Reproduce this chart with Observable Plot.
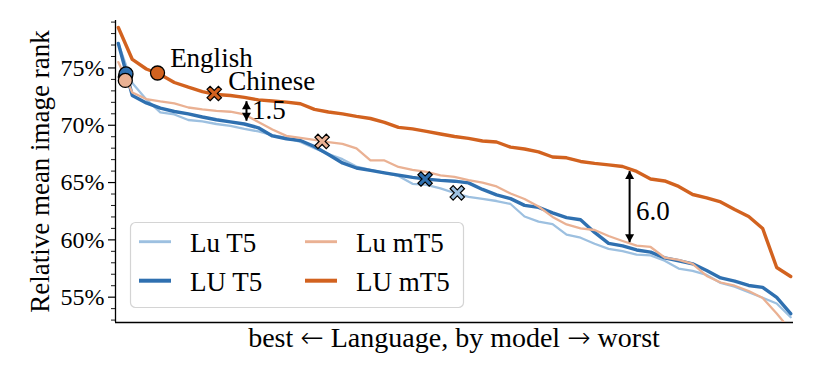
<!DOCTYPE html>
<html>
<head>
<meta charset="utf-8">
<script src="https://cdn.jsdelivr.net/npm/d3@7"></script>
<script src="https://cdn.jsdelivr.net/npm/@observablehq/plot@0.6"></script>
<style>
  body { margin: 0; background: #fff; }
  #wrap { position: relative; width: 831px; height: 377px; font-family: "Liberation Serif", "Times New Roman", serif; }
  #overlay { position: absolute; left: 0; top: 0; pointer-events: none; }
</style>
</head>
<body>
<div id="wrap"></div>
<script>
// ---- data ----
const models = ["Lu T5", "LU T5", "Lu mT5", "LU mT5"];
const colors = ["#9dc0e0", "#2f70b0", "#eab193", "#d2621f"];
const widths = [2.3, 3.4, 2.3, 3.4];

const ranks = [0,2,4,6,8,10,12,14,16,18,20,22,24,26,28,30,32,34,36,38,40,42,44,46,48,50,52,54,56,58,60,62,64,66,68,70,72,74,76,78,80,82,84,86,88,90,92,94,96];

const luT5 = [77.14,73.69,72.25,71.12,70.94,70.46,70.33,70.11,69.94,69.68,69.46,69.14,68.89,68.54,68.00,67.49,67.04,66.40,66.10,65.84,65.58,64.89,64.79,64.49,64.09,63.76,63.57,63.39,63.13,62.04,61.59,61.38,60.45,60.19,59.66,59.21,59.01,58.71,58.64,58.18,57.50,57.29,56.94,56.24,55.92,55.43,54.95,54.45,53.25];
const LUT5 = [77.14,72.60,71.95,71.49,71.20,70.99,70.72,70.48,70.29,70.11,69.78,69.07,68.82,68.67,68.15,67.45,66.71,66.27,66.06,65.85,65.65,65.45,65.30,65.19,65.12,64.97,64.40,63.92,63.60,63.01,62.83,62.36,61.94,61.76,60.65,59.69,59.47,59.12,58.93,58.43,58.18,57.91,57.33,56.68,56.40,56.02,55.85,54.98,53.56];
const lumT5 = [75.51,72.86,72.29,72.08,71.90,71.55,71.38,71.25,71.18,70.94,70.29,69.63,69.07,68.89,68.73,68.53,68.37,67.98,66.93,66.93,66.36,66.10,65.93,65.62,65.49,65.21,64.99,64.66,64.05,63.57,62.91,62.00,61.35,61.01,60.86,60.34,59.90,59.49,59.38,58.46,58.25,57.90,56.85,56.28,56.00,55.54,54.93,53.58,52.10];
const LUmT5 = [78.53,75.74,74.91,74.43,73.73,73.32,72.94,72.68,72.60,72.43,72.21,72.12,72.02,71.88,71.38,71.16,70.99,70.77,70.59,70.25,69.81,69.68,69.46,69.24,69.02,68.85,68.63,68.54,68.09,67.93,67.67,67.23,67.16,66.84,66.67,66.54,66.40,65.97,65.31,65.14,64.66,63.96,63.67,63.31,62.65,62.04,60.99,57.59,56.80];

// highlighted languages
const markerModel = ["Lu T5", "LU T5", "Lu mT5", "LU mT5", "Lu T5", "LU T5", "Lu mT5", "LU mT5"];
const markerLang  = ["English", "English", "English", "English", "Chinese", "Chinese", "Chinese", "Chinese"];
const markerRank  = [1.0, 1.1, 1.0, 5.6, 48.4, 43.8, 29.1, 13.7];
const markerValue = [74.2, 74.48, 73.91, 74.56, 64.1, 65.31, 68.59, 72.77];

// annotations
const annText  = ["English", "Chinese", "1.5", "6.0"];
const annRank  = [7.4, 15.7, 19.1, 73.9];
const annValue = [75.04, 73.04, 70.57, 61.75];
const arrowRank   = [18.3, 73.0];
const arrowTop    = [72.1, 66.0];
const arrowBottom = [70.4, 59.8];

const majorTicks = [55, 60, 65, 70, 75];
const minorTicks = [53, 54, 56, 57, 58, 59, 61, 62, 63, 64, 66, 67, 68, 69, 71, 72, 73, 74, 76, 77, 78, 79];
const xDomain = [-0.4, 96.4];
const yDomain = [52.79, 79.14];
const yLabel = "Relative mean image rank";
const xLabelParts = ["best ", "\u2190", " Language, by model ", "\u2192", " worst"];

// ---- build ----
const seriesValues = [luT5, LUT5, lumT5, LUmT5];
const rows = models.map((m, k) => ranks.map((r, i) => ({model: m, rank: r, value: seriesValues[k][i]})));
const markers = markerModel.map((m, i) => ({model: m, lang: markerLang[i], rank: markerRank[i], value: markerValue[i], color: colors[models.indexOf(m)]}));
const anns = annText.map((t, i) => ({text: t, rank: annRank[i], value: annValue[i]}));
const arrows = arrowRank.map((r, i) => ({rank: r, top: arrowTop[i], bottom: arrowBottom[i]}));

const xSymbol = {
  draw(ctx) {
    const r = 7.2, w = r * 0.3, L = r * Math.SQRT2 - w;
    const pts = [[w,L],[w,w],[L,w],[L,-w],[w,-w],[w,-L],[-w,-L],[-w,-w],[-L,-w],[-L,w],[-w,w],[-w,L]]
      .map(([x, y]) => [(x - y) / Math.SQRT2, (x + y) / Math.SQRT2]);
    ctx.moveTo(pts[0][0], pts[0][1]);
    for (let i = 1; i < pts.length; ++i) ctx.lineTo(pts[i][0], pts[i][1]);
    ctx.closePath();
  }
};
const headUp = {draw(ctx) { ctx.moveTo(0, 0); ctx.lineTo(-4.5, 8); ctx.lineTo(4.5, 8); ctx.closePath(); }};
const headDown = {draw(ctx) { ctx.moveTo(0, 0); ctx.lineTo(-4.5, -8); ctx.lineTo(4.5, -8); ctx.closePath(); }};

const lineMarks = models.map((m, k) => Plot.line(rows[k], {x: "rank", y: "value", stroke: colors[k], strokeWidth: widths[k], clip: true, strokeLinejoin: "round"}));

const chart = Plot.plot({
  width: 831,
  height: 377,
  marginLeft: 115,
  marginRight: 38,
  marginTop: 20,
  marginBottom: 55,
  x: {domain: xDomain, axis: null},
  y: {domain: yDomain},
  style: {fontFamily: "'Liberation Serif', 'Times New Roman', serif", fontSize: "24px", color: "#000", background: "#fff", overflow: "visible"},
  marks: [
    Plot.axisY(minorTicks, {tickSize: 4, tickFormat: () => "", label: null, strokeWidth: 0.9}),
    Plot.axisY(majorTicks, {tickSize: 7, tickPadding: 4, tickFormat: d => d + "%", label: null, strokeWidth: 1.2, fontSize: 24}),
    Plot.ruleX([xDomain[0]], {stroke: "#000", strokeWidth: 1.3}),
    Plot.ruleY([yDomain[0]], {stroke: "#000", strokeWidth: 1.3}),
    ...lineMarks,
    Plot.dot(markers.filter(d => d.lang === "English"), {x: "rank", y: "value", r: 7, fill: "color", stroke: "#000", strokeWidth: 1.3}),
    Plot.dot(markers.filter(d => d.lang === "Chinese"), {x: "rank", y: "value", r: 7, symbol: xSymbol, fill: "color", stroke: "#000", strokeWidth: 1.2}),
    Plot.link(arrows, {x1: "rank", x2: "rank", y1: "top", y2: "bottom", stroke: "#000", strokeWidth: 2}),
    Plot.dot(arrows, {x: "rank", y: "top", symbol: headUp, fill: "#000", stroke: "none"}),
    Plot.dot(arrows, {x: "rank", y: "bottom", symbol: headDown, fill: "#000", stroke: "none"}),
    Plot.text(anns, {x: "rank", y: "value", text: "text", textAnchor: "start", lineAnchor: "bottom", fontSize: 27, fill: "#000"}),
    Plot.text([yLabel], {frameAnchor: "left", dx: -67, rotate: -90, textAnchor: "middle", lineAnchor: "bottom", fontSize: 27, fill: "#000"})
  ]
});
const wrap = document.getElementById("wrap");
wrap.appendChild(chart);

// overlay: legend + x label (with wider arrows)
const ns = "http://www.w3.org/2000/svg";
const ov = document.createElementNS(ns, "svg");
ov.setAttribute("id", "overlay");
ov.setAttribute("width", 831);
ov.setAttribute("height", 377);
ov.style.fontFamily = "'Liberation Serif', 'Times New Roman', serif";
const lg = document.createElementNS(ns, "g");
lg.setAttribute("transform", "translate(130,222)");
const box = document.createElementNS(ns, "rect");
box.setAttribute("x", 0.5); box.setAttribute("y", 0.5);
box.setAttribute("width", 333); box.setAttribute("height", 85);
box.setAttribute("rx", 5);
box.setAttribute("fill", "rgba(255,255,255,0.8)");
box.setAttribute("stroke", "#d4d4d4");
box.setAttribute("stroke-width", 1.2);
lg.appendChild(box);
const legPos = [[9, 60, 19.7], [9, 60, 58.7], [175, 226, 19.7], [175, 226, 58.7]];
models.forEach((m, k) => {
  const [lx, tx, cy] = legPos[k];
  const ln = document.createElementNS(ns, "line");
  ln.setAttribute("x1", lx); ln.setAttribute("x2", lx + 32);
  ln.setAttribute("y1", cy); ln.setAttribute("y2", cy);
  ln.setAttribute("stroke", colors[k]);
  ln.setAttribute("stroke-width", widths[k] + 0.6);
  lg.appendChild(ln);
  const t = document.createElementNS(ns, "text");
  t.setAttribute("x", tx); t.setAttribute("y", cy + 10);
  t.setAttribute("font-size", 27);
  t.setAttribute("fill", "#000");
  t.textContent = m;
  lg.appendChild(t);
});
ov.appendChild(lg);
const xl = document.createElementNS(ns, "text");
xl.setAttribute("x", 454);
xl.setAttribute("y", 347);
xl.setAttribute("text-anchor", "middle");
xl.setAttribute("font-size", 28);
xl.setAttribute("fill", "#000");
xl.setAttribute("style", "white-space: pre");
xLabelParts.forEach((p, i) => {
  const ts = document.createElementNS(ns, "tspan");
  if (i % 2 === 1) { ts.setAttribute("font-family", "'DejaVu Sans', sans-serif"); ts.setAttribute("font-weight", "300"); }
  ts.textContent = p;
  xl.appendChild(ts);
});
ov.appendChild(xl);
wrap.appendChild(ov);
</script>
</body>
</html>
